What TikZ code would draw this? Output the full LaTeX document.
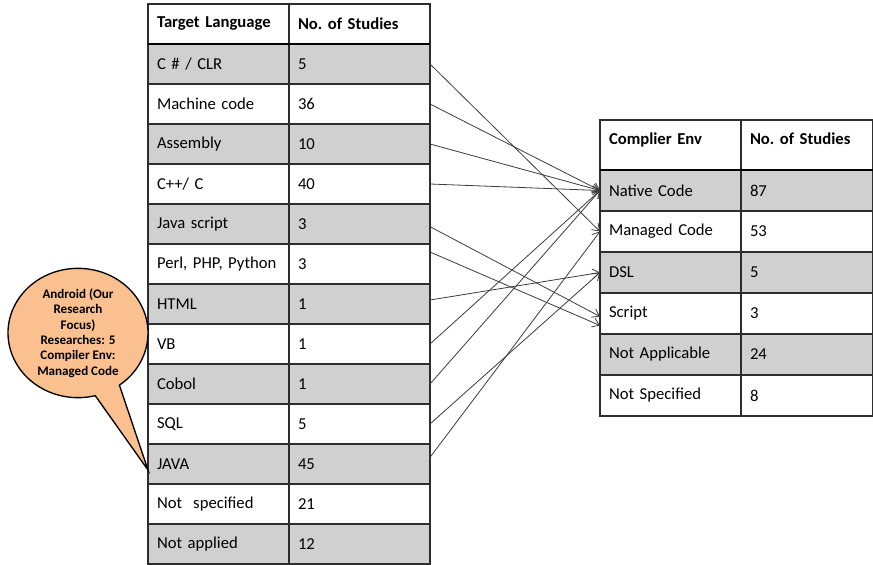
\documentclass[tikz,border=0pt]{standalone}
\usepackage{fontspec}
\setmainfont{Carlito}
\usetikzlibrary{positioning, arrows.meta, shapes.callouts}
\definecolor{rowgray}{RGB}{208, 208, 208}
\definecolor{gridcolor}{RGB}{45, 45, 45}
\definecolor{bubblecolor}{RGB}{250, 192, 143}
\definecolor{arrowcolor}{RGB}{60, 60, 60}
\tikzset{
    % Base cell
    basecell/.style={
        draw=gridcolor, line width=0.9pt, outer sep=0pt,
        inner xsep=6.75pt, inner ysep=0pt, align=left,
        font=\fontsize{12.5}{14}\selectfont, fill=white
    },
    % Left table (target languages)
    langnode/.style={basecell, text width=92.25pt, minimum height=30pt},
    langnumnode/.style={basecell, text width=92.25pt, minimum height=30pt},
    % Right table (compiler environments)
    envnode/.style={basecell, text width=92.25pt, minimum height=30.75pt},
    envnumnode/.style={basecell, text width=85.5pt, minimum height=30.75pt},
    % Modifiers
    headnode/.style={font=\fontsize{12.5}{14}\selectfont\bfseries},
    grayrow/.style={fill=rowgray},
    headrule/.style={line width=2pt, black},
    % Arrows
    myarrow/.style={-{Straight Barb[length=5pt, width=7pt]}, line width=0.6pt, arrowcolor},
    % Speech bubble
    calloutnode/.style={
        ellipse callout, draw=black, line width=1pt, fill=bubblecolor,
        minimum width=105pt, minimum height=97pt, inner sep=0pt,
        callout pointer arc=22, align=center,
        font=\fontsize{9.8}{11.6}\selectfont\bfseries
    },
}
\begin{document}
\begin{tikzpicture}[x=0.75pt, y=-0.75pt]
\useasboundingbox (0,0) rectangle (873,564);

% Target language table
\node (langhead) [langnode, headnode, anchor=north west] at (148,4) {Target Language};
\node (langheadnum) [langnumnode, headnode, right=0pt of langhead] {No.\ of Studies};

\node (csharp) [langnode, grayrow, below=0pt of langhead] {C \# / CLR};
\node (csharpnum) [langnumnode, grayrow, right=0pt of csharp] {5};
\node (machine) [langnode, below=0pt of csharp] {Machine code};
\node (machinenum) [langnumnode, right=0pt of machine] {36};
\node (assembly) [langnode, grayrow, below=0pt of machine] {Assembly};
\node (assemblynum) [langnumnode, grayrow, right=0pt of assembly] {10};
\node (cpp) [langnode, below=0pt of assembly] {C++/ C};
\node (cppnum) [langnumnode, right=0pt of cpp] {40};
\node (jscript) [langnode, grayrow, below=0pt of cpp] {Java script};
\node (jscriptnum) [langnumnode, grayrow, right=0pt of jscript] {3};
\node (perl) [langnode, below=0pt of jscript] {Perl, PHP, Python};
\node (perlnum) [langnumnode, right=0pt of perl] {3};
\node (html) [langnode, grayrow, below=0pt of perl] {HTML};
\node (htmlnum) [langnumnode, grayrow, right=0pt of html] {1};
\node (vb) [langnode, below=0pt of html] {VB};
\node (vbnum) [langnumnode, right=0pt of vb] {1};
\node (cobol) [langnode, grayrow, below=0pt of vb] {Cobol};
\node (cobolnum) [langnumnode, grayrow, right=0pt of cobol] {1};
\node (sql) [langnode, below=0pt of cobol] {SQL};
\node (sqlnum) [langnumnode, right=0pt of sql] {5};
\node (java) [langnode, grayrow, below=0pt of sql] {JAVA};
\node (javanum) [langnumnode, grayrow, right=0pt of java] {45};
\node (notspec) [langnode, below=0pt of java] {Not~~specified};
\node (notspecnum) [langnumnode, right=0pt of notspec] {21};
\node (notappl) [langnode, grayrow, below=0pt of notspec] {Not applied};
\node (notapplnum) [langnumnode, grayrow, right=0pt of notappl] {12};

\draw[headrule] (langhead.south west) -- (langheadnum.south east);

% Compiler environment table
\node (envhead) [envnode, headnode, minimum height=37.5pt, text depth=9pt, anchor=north west] at (600,120) {Complier Env};
\node (envheadnum) [envnumnode, headnode, minimum height=37.5pt, text depth=9pt, right=0pt of envhead] {No.\ of Studies};

\node (native) [envnode, grayrow, below=0pt of envhead] {Native Code};
\node (nativenum) [envnumnode, grayrow, right=0pt of native] {87};
\node (managed) [envnode, below=0pt of native] {Managed Code};
\node (managednum) [envnumnode, right=0pt of managed] {53};
\node (dsl) [envnode, grayrow, below=0pt of managed] {DSL};
\node (dslnum) [envnumnode, grayrow, right=0pt of dsl] {5};
\node (script) [envnode, below=0pt of dsl] {Script};
\node (scriptnum) [envnumnode, right=0pt of script] {3};
\node (notapp) [envnode, grayrow, below=0pt of script] {Not Applicable};
\node (notappnum) [envnumnode, grayrow, right=0pt of notapp] {24};
\node (notspc) [envnode, below=0pt of notapp] {Not Specified};
\node (notspcnum) [envnumnode, right=0pt of notspc] {8};

\draw[headrule] (envhead.south west) -- (envheadnum.south east);

% Mapping arrows
\draw[myarrow] (csharpnum.east) -- (managed.west);
\draw[myarrow] (machinenum.east) -- (native.west);
\draw[myarrow] (assemblynum.east) -- (native.west);
\draw[myarrow] (cppnum.east) -- (native.west);
\draw[myarrow] ([yshift=-2pt]jscriptnum.east) -- ([yshift=-2.25pt]script.west);
\draw[myarrow] ([yshift=9pt]perlnum.east) -- ([yshift=-9pt]script.west);
\draw[myarrow] ([yshift=3pt]htmlnum.east) -- (dsl.west);
\draw[myarrow] (vbnum.east) -- (native.west);
\draw[myarrow] (cobolnum.east) -- (native.west);
\draw[myarrow] (sqlnum.east) -- (dsl.west);
\draw[myarrow] ([yshift=5pt]javanum.east) -- (managed.west);

% Research focus bubble
\node (android) [calloutnode, callout absolute pointer={([yshift=-4.5pt]java.west)}] at (78,333) {Android (Our\\Research\\Focus)\\Researches: 5\\Compiler Env:\\Managed Code};

\end{tikzpicture}
\end{document}
